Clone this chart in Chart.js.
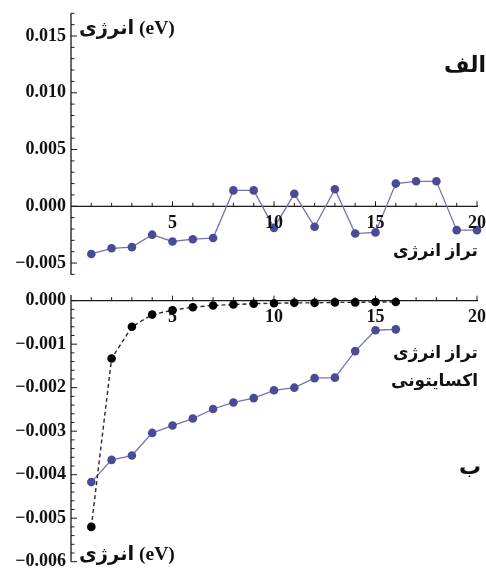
<!DOCTYPE html>
<html>
<head>
<meta charset="utf-8">
<script src="https://cdn.jsdelivr.net/npm/chart.js@4"></script>
<style>
  html, body { margin: 0; padding: 0; background: #fff; }
  #wrap { position: relative; width: 486px; height: 571px; }
  #wrap canvas { position: absolute; left: 0; top: 0; }
</style>
</head>
<body>
<div id="wrap">
  <canvas id="top" width="486" height="571"></canvas>
  <canvas id="bottom" width="486" height="571"></canvas>
</div>
<script>
// Panel (الف): energy shift per level
const levelsTop = [1, 2, 3, 4, 5, 6, 7, 8, 9, 10, 11, 12, 13, 14, 15, 16, 17, 18, 19, 20];
const energyTop = [-0.0042, -0.0037, -0.0036, -0.0025, -0.0031, -0.0029, -0.0028, 0.0014, 0.0014, -0.0019,
                   0.0011, -0.0018, 0.0015, -0.0024, -0.0023, 0.0020, 0.0022, 0.0022, -0.0021, -0.0021];

// Panel (ب): exciton levels
const levelsBottom = [1, 2, 3, 4, 5, 6, 7, 8, 9, 10, 11, 12, 13, 14, 15, 16];
const excitonBlue = [-0.00417, -0.00366, -0.00356, -0.00304, -0.00287, -0.00271, -0.00249, -0.00234,
                     -0.00224, -0.00206, -0.00200, -0.00178, -0.00177, -0.00116, -0.00068, -0.00066];
const excitonBlack = [-0.0052, -0.00133, -0.00060, -0.00032, -0.00022, -0.00015, -0.00011, -0.00009,
                      -0.00007, -0.00006, -0.00005, -0.00005, -0.00004, -0.00004, -0.00003, -0.00003];

// Tick labels
const xTickLabels = [5, 10, 15, 20];
const yTicksTop = [-0.005, 0.000, 0.005, 0.010, 0.015];
const yTicksBottom = [0.000, -0.001, -0.002, -0.003, -0.004, -0.005, -0.006];

// Text
const yTitle = 'انرژی (eV)';
const xTitleTop = 'تراز انرژی';
const xTitleBottom = ['تراز انرژی', 'اکسایتونی'];
const panelTop = 'الف';
const panelBottom = 'ب';

const NUM_FONT = 'bold 18px "Liberation Serif", "DejaVu Serif", serif';
const TITLE_FONT = 'bold 19.5px "Liberation Serif", "DejaVu Sans", sans-serif';
const FA_FONT = 'bold 17px "Liberation Serif", "DejaVu Sans", sans-serif';
const FA_BIG = 'bold 22px "Liberation Serif", "DejaVu Sans", sans-serif';

function fmt(v) {
  const s = Math.abs(v).toFixed(3);
  return v < -1e-12 ? '\u2212' + s : s;
}

// Axes crossing at the origin, ticks pointing inward, with minor ticks
const originAxes = {
  id: 'originAxes',
  beforeDatasetsDraw(chart, args, o) {
    const ctx = chart.ctx, xs = chart.scales.x, ys = chart.scales.y;
    const x0 = xs.getPixelForValue(0), y0 = ys.getPixelForValue(0);
    ctx.save();
    ctx.strokeStyle = '#1a1a1a';
    ctx.lineWidth = 1.3;
    ctx.beginPath();
    ctx.moveTo(x0, ys.top); ctx.lineTo(x0, ys.bottom);
    ctx.moveTo(xs.left, y0); ctx.lineTo(xs.right + 1, y0);
    ctx.stroke();
    ctx.lineWidth = 1;
    ctx.beginPath();
    // y ticks
    const n = Math.round((o.yMax - o.yMin) / o.yMinor);
    for (let i = 0; i <= n; i++) {
      const v = o.yMin + i * o.yMinor;
      const major = Math.abs(v / o.yMajor - Math.round(v / o.yMajor)) < 1e-6;
      const py = ys.getPixelForValue(v);
      ctx.moveTo(x0, py); ctx.lineTo(x0 + (major ? 6 : 3.5), py);
    }
    // x ticks
    for (let k = 1; k <= 20; k++) {
      const px = xs.getPixelForValue(k);
      ctx.moveTo(px, y0); ctx.lineTo(px, y0 - (k % 5 === 0 ? 5 : 3.5));
    }
    ctx.stroke();
    ctx.restore();
  },
  afterDatasetsDraw(chart, args, o) {
    const ctx = chart.ctx, xs = chart.scales.x, ys = chart.scales.y;
    const x0 = xs.getPixelForValue(0), y0 = ys.getPixelForValue(0);
    ctx.save();
    ctx.fillStyle = '#111';
    ctx.font = NUM_FONT;
    ctx.textBaseline = 'middle';
    ctx.textAlign = 'right';
    o.yLabels.forEach(v => ctx.fillText(fmt(v), x0 - 5, ys.getPixelForValue(v)));
    ctx.textAlign = 'center';
    xTickLabels.forEach(v => ctx.fillText(String(v), xs.getPixelForValue(v), y0 + 17));
    // titles
    ctx.direction = 'ltr';
    ctx.textAlign = 'left';
    ctx.font = TITLE_FONT;
    ctx.fillText(yTitle, o.yTitlePos[0], o.yTitlePos[1]);
    ctx.font = FA_FONT;
    ctx.textAlign = 'right';
    o.xTitle.forEach((t, i) => ctx.fillText(t, 478, o.xTitleY[i]));
    ctx.font = FA_BIG;
    ctx.textAlign = 'center';
    ctx.fillText(o.panel, o.panelPos[0], o.panelPos[1]);
    ctx.restore();
  }
};

function pts(xs, ys) { return xs.map((x, i) => ({ x: x, y: ys[i] })); }

const BLUE_LINE = 'rgb(115,115,178)';
const BLUE_PT = 'rgb(74,74,150)';

function makeChart(id, datasets, yMin, yMax, padTop, padBottom, axisOpts) {
  return new Chart(document.getElementById(id), {
    type: 'line',
    data: { datasets: datasets },
    options: {
      responsive: false,
      animation: false,
      devicePixelRatio: 1,
      layout: { padding: { left: 71, right: 9, top: padTop, bottom: padBottom } },
      scales: {
        x: { type: 'linear', min: 0, max: 20, display: false },
        y: { type: 'linear', min: yMin, max: yMax, display: false }
      },
      plugins: { legend: { display: false }, tooltip: { enabled: false }, originAxes: axisOpts }
    },
    plugins: [originAxes]
  });
}

makeChart('top', [{
  data: pts(levelsTop, energyTop),
  borderColor: BLUE_LINE, borderWidth: 1.3, tension: 0,
  pointRadius: 4.3, pointBackgroundColor: BLUE_PT, pointBorderWidth: 0, clip: false
}], -0.006, 0.017, 13.3, 296.6, {
  yMin: -0.006, yMax: 0.017, yMinor: 0.001, yMajor: 0.005, yLabels: yTicksTop,
  yTitlePos: [79, 29], xTitle: [xTitleTop], xTitleY: [252],
  panel: panelTop, panelPos: [465, 66]
});

makeChart('bottom', [{
  data: pts(levelsBottom, excitonBlack),
  borderColor: '#2a2a2a', borderWidth: 1.4, borderDash: [4, 3], tension: 0,
  pointRadius: 4.3, pointBackgroundColor: '#000', pointBorderWidth: 0, clip: false
}, {
  data: pts(levelsBottom, excitonBlue),
  borderColor: BLUE_LINE, borderWidth: 1.3, tension: 0,
  pointRadius: 4.3, pointBackgroundColor: BLUE_PT, pointBorderWidth: 0, clip: false
}], -0.006, 0.00013, 295, 9.3, {
  yMin: -0.006, yMax: 0.0, yMinor: 0.0002, yMajor: 0.001, yLabels: yTicksBottom,
  yTitlePos: [79, 555], xTitle: xTitleBottom, xTitleY: [354, 382],
  panel: panelBottom, panelPos: [470, 468]
});
</script>
</body>
</html>
